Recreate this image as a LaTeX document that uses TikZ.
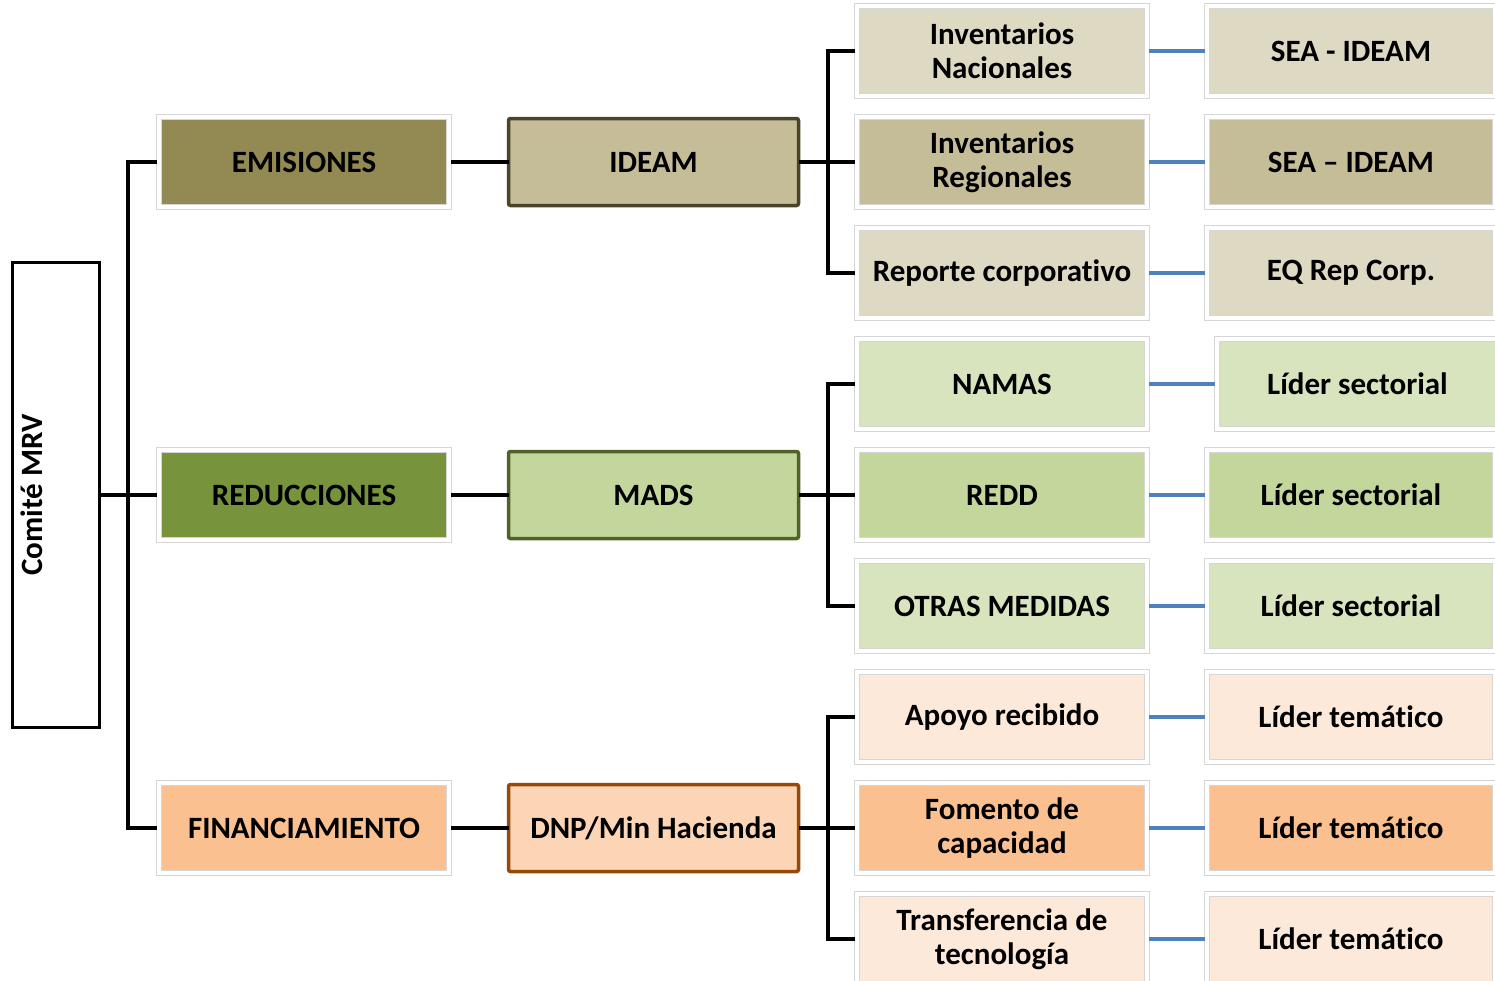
\documentclass[tikz,border=0pt]{standalone}
\usepackage{fontspec}
\setmainfont[Ligatures={NoCommon}]{Carlito}
\definecolor{emiC}{HTML}{938953}
\definecolor{redC}{HTML}{77933C}
\definecolor{finC}{HTML}{FAC090}
\definecolor{ideamF}{HTML}{C4BD97}
\definecolor{ideamB}{HTML}{4A452A}
\definecolor{madsF}{HTML}{C3D69B}
\definecolor{madsB}{HTML}{4F6228}
\definecolor{dnpF}{HTML}{FBD5B5}
\definecolor{dnpB}{HTML}{984807}
\definecolor{tanL}{HTML}{DDD9C3}
\definecolor{grnL}{HTML}{D7E4BD}
\definecolor{pchL}{HTML}{FDE9D9}
\definecolor{blueC}{HTML}{4F81BD}
\definecolor{frameC}{HTML}{D6D6D6}
\begin{document}
\begin{tikzpicture}[x=1pt,y=-1pt,
  every node/.style={font=\fontsize{31}{34}\selectfont\bfseries, align=center, inner sep=0pt},
  framed/.style={draw=frameC, line width=0.8pt, double=white, double distance=4pt, outer sep=2pt,
    minimum height=90pt, rectangle},
  lone/.style={framed, minimum width=290pt},
  lthree/.style={framed, minimum width=290pt},
  lfour/.style={framed, minimum width=288pt},
  ltwo/.style={draw, line width=3.5pt, rounded corners=2pt, minimum width=290pt, minimum height=87pt, outer sep=0pt},
  conn/.style={line width=3.5pt, black},
  bconn/.style={line width=3.5pt, blueC}
]
\useasboundingbox (0,0) rectangle (1495,980);
\begin{scope}
\clip (0,0) rectangle (1495,980);
% Comite
\node[draw, line width=3.5pt, minimum width=87pt, minimum height=465pt, outer sep=0pt] (comite) at (56,495) {};
\node[rotate=90] (comitetxt) at (32,495) {Comité MRV};

% level 1
\node[lone, fill=emiC] (emi) at (304,162) {EMISIONES};
\node[lone, fill=redC] (red) at (304,495) {REDUCCIONES};
\node[lone, fill=finC] (fin) at (304,828) {FINANCIAMIENTO};

% level 2
\node[ltwo, fill=ideamF, draw=ideamB] (ideam) at (653.5,162) {IDEAM};
\node[ltwo, fill=madsF, draw=madsB] (mads) at (653.5,495) {MADS};
\node[ltwo, fill=dnpF, draw=dnpB] (dnp) at (653.5,828) {DNP/Min Hacienda};

% level 3
\node[lthree, fill=tanL] (t1) at (1002,51) {Inventarios\\Nacionales};
\node[lthree, fill=ideamF] (t2) at (1002,162) {Inventarios\\Regionales};
\node[lthree, fill=tanL] (t3) at (1002,273) {Reporte corporativo};
\node[lthree, fill=grnL] (t4) at (1002,384) {NAMAS};
\node[lthree, fill=madsF] (t5) at (1002,495) {REDD};
\node[lthree, fill=grnL] (t6) at (1002,606) {OTRAS MEDIDAS};
\node[lthree, fill=pchL] (t7) at (1002,717) {Apoyo recibido};
\node[lthree, fill=finC] (t8) at (1002,828) {Fomento de\\capacidad};
\node[lthree, fill=pchL] (t9) at (1002,939) {Transferencia de\\tecnología};

% level 4
\node[lfour, fill=tanL] (u1) at (1351,51) {SEA - IDEAM};
\node[lfour, fill=ideamF] (u2) at (1351,162) {SEA – IDEAM};
\node[lfour, fill=tanL] (u3) at (1351,273) {EQ Rep Corp.};
\node[framed, minimum width=281pt, fill=grnL] (u4) at (1357.5,384) {Líder sectorial};
\node[lfour, fill=madsF] (u5) at (1351,495) {Líder sectorial};
\node[lfour, fill=grnL] (u6) at (1351,606) {Líder sectorial};
\node[lfour, fill=pchL] (u7) at (1351,717) {Líder temático};
\node[lfour, fill=finC] (u8) at (1351,828) {Líder temático};
\node[lfour, fill=pchL] (u9) at (1351,939) {Líder temático};

% trunk
\coordinate (j0) at (128,495);
\draw[conn] (comite.east) -- (j0);
\draw[conn] (emi.west) -| (j0) |- (fin.west);
\draw[conn] (j0) -- (red.west);

% level1 -> level2
\draw[conn] (emi.east) -- (ideam.west);
\draw[conn] (red.east) -- (mads.west);
\draw[conn] (fin.east) -- (dnp.west);

% level2 -> level3
\coordinate (ja) at (828,162);
\coordinate (jb) at (828,495);
\coordinate (jc) at (828,828);
\draw[conn] (ideam.east) -- (t2.west);
\draw[conn] (t1.west) -| (ja) |- (t3.west);
\draw[conn] (mads.east) -- (t5.west);
\draw[conn] (t4.west) -| (jb) |- (t6.west);
\draw[conn] (dnp.east) -- (t8.west);
\draw[conn] (t7.west) -| (jc) |- (t9.west);

% level3 -> level4
\foreach \i in {1,...,9} {\draw[bconn] (t\i.east) -- (u\i.west);}
\end{scope}
\end{tikzpicture}
\end{document}
